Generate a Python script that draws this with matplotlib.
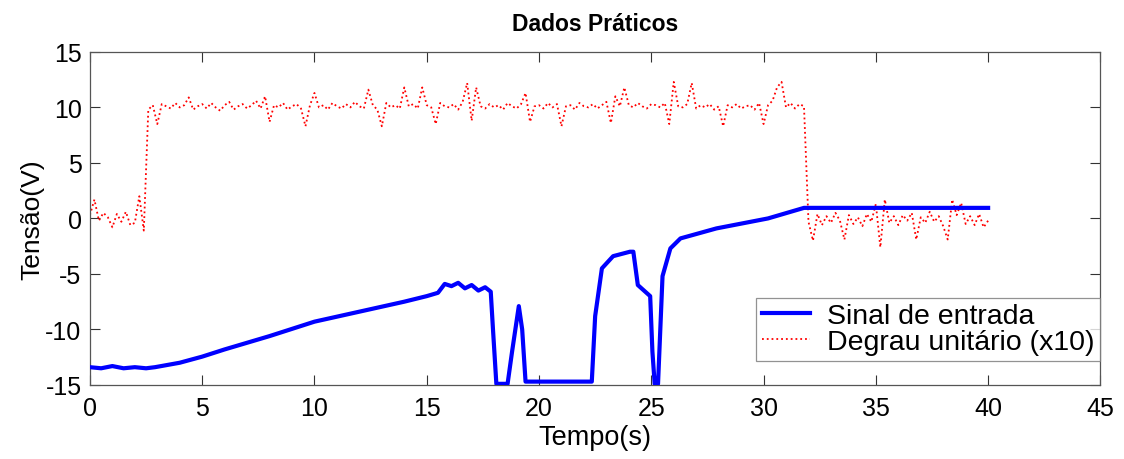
import numpy as np
import matplotlib
matplotlib.use("Agg")
import matplotlib.pyplot as plt

# ---- Data ----
t_sinal = [0, 0.5, 1.0, 1.5, 2.0, 2.5, 2.9, 4, 5, 6, 7, 8, 9, 10, 11, 12, 13, 14, 15,
           15.5, 15.8, 16.1, 16.4, 16.7, 17.0, 17.3, 17.6, 17.85, 17.95, 18.1, 18.6,
           18.8, 19.1, 19.25, 19.4, 22.35, 22.5, 22.8, 23.3, 24.05, 24.2, 24.4, 24.95,
           25.05, 25.15, 25.3, 25.5, 25.85, 26.3, 27.9, 30.2, 31.8, 40.0]
sinal = [-13.4, -13.5, -13.3, -13.5, -13.4, -13.5, -13.4, -13.0, -12.45, -11.8, -11.2,
         -10.6, -9.95, -9.3, -8.85, -8.4, -7.95, -7.5, -7.0,
         -6.7, -5.9, -6.1, -5.8, -6.3, -6.0, -6.5, -6.2, -6.6, -10.0, -14.9, -14.9,
         -12.0, -7.9, -10.0, -14.7, -14.7, -8.8, -4.5, -3.4, -3.0, -3.0, -6.0, -7.0,
         -12.0, -14.9, -14.9, -5.2, -2.7, -1.8, -0.9, 0.0, 0.95, 0.95]

t_degrau_step = 0.2
degrau = [
    0.3, 1.7, -0.2, 0.5, 0.1, -0.8, 0.4, -0.3, 0.6, -0.6,
    -0.4, 2.0, -1.1, 9.8, 10.2, 8.5, 10.3, 10.1, 9.9, 10.4,
    10.0, 10.2, 10.9, 9.8, 10.1, 10.3, 9.9, 10.4, 10.0, 9.7,
    10.2, 10.5, 9.8, 10.1, 10.3, 9.9, 10.2, 10.6, 9.9, 11.0,
    8.7, 10.2, 10.0, 10.4, 9.8, 10.1, 10.3, 9.9, 8.3, 10.2,
    11.3, 10.0, 10.2, 9.8, 10.4, 10.1, 9.9, 10.3, 10.0, 10.5,
    10.1, 9.9, 11.6, 10.2, 9.8, 8.3, 10.4, 10.0, 10.2, 9.9,
    11.8, 10.1, 10.3, 9.9, 11.8, 10.2, 10.0, 8.5, 10.4, 10.1,
    10.0, 10.3, 9.8, 10.5, 12.2, 8.8, 11.8, 10.1, 9.9, 10.3,
    10.0, 10.2, 9.8, 10.4, 10.1, 9.9, 10.3, 11.3, 8.7, 10.1,
    10.2, 9.9, 10.4, 10.0, 10.3, 8.3, 10.1, 10.2, 9.8, 10.4,
    10.1, 10.0, 10.3, 9.9, 10.2, 10.5, 8.6, 11.0, 10.1, 11.8,
    10.2, 10.0, 10.4, 10.1, 9.9, 10.3, 10.2, 10.0, 10.4, 8.5,
    12.3, 10.1, 10.0, 10.3, 12.2, 9.9, 10.2, 10.0, 10.3, 9.8,
    10.1, 8.3, 10.2, 10.0, 10.3, 9.9, 10.1, 10.2, 9.8, 10.4,
    8.5, 10.2, 10.6, 11.8, 12.3, 10.0, 10.4, 9.9, 10.3, 10.1,
    -0.3, -2.0, 0.4, -0.6, 0.2, -0.4, 0.5, -0.2, -1.9, 0.3,
    -0.5, 0.1, -0.7, 0.4, -0.3, 1.3, -2.6, 1.7, -0.4, 0.2,
    -0.6, 0.3, -0.2, 0.5, -1.9, 0.1, -0.4, 0.6, -0.3, 0.2,
    -0.7, -1.9, 1.7, 0.3, 1.4, -0.5, 0.2, -0.6, 0.4, -0.8,
    -0.2,
]
t_degrau = np.arange(len(degrau)) * t_degrau_step

xticks = [0, 5, 10, 15, 20, 25, 30, 35, 40, 45]
yticks = [-15, -10, -5, 0, 5, 10, 15]

# ---- Plot ----
plt.rcParams['font.family'] = ['Liberation Sans', 'DejaVu Sans']
plt.rcParams['axes.unicode_minus'] = False
fig = plt.figure(figsize=(11.24, 4.6), dpi=100)
ax = fig.add_axes([0.080, 0.161, 0.899, 0.724])

ax.plot(t_sinal, sinal, color=(0, 0, 1), linewidth=3.0, label='Sinal de entrada', zorder=3)
ax.plot(t_degrau, degrau, color=(1, 0, 0), linewidth=1.3, linestyle=':',
        label='Degrau unitário (x10)', zorder=2)

ax.set_xlim(0, 45)
ax.set_ylim(-15, 15)
ax.set_xticks(xticks)
ax.set_yticks(yticks)
ax.tick_params(direction='in', top=True, right=True, length=7, labelsize=18,
               color='#333333')
ax.tick_params(axis='x', pad=8)
ax.tick_params(axis='y', pad=6)
for s in ax.spines.values():
    s.set_color('#555555')
    s.set_linewidth(0.9)

ax.set_title('Dados Práticos', fontsize=16.5, fontweight='bold', pad=16)
ax.set_xlabel('Tempo(s)', fontsize=19.5, labelpad=3)
ax.set_ylabel('Tensão(V)', fontsize=19, labelpad=1)

leg = ax.legend(loc='lower right', bbox_to_anchor=(1.0, 0.072), fontsize=20.5,
                frameon=True, fancybox=False, edgecolor='#777777', handlelength=1.7,
                borderaxespad=0.0, labelspacing=0.0, borderpad=0.2, handletextpad=0.6)
leg.get_frame().set_linewidth(0.9)

fig.savefig('out.png', dpi=100)
